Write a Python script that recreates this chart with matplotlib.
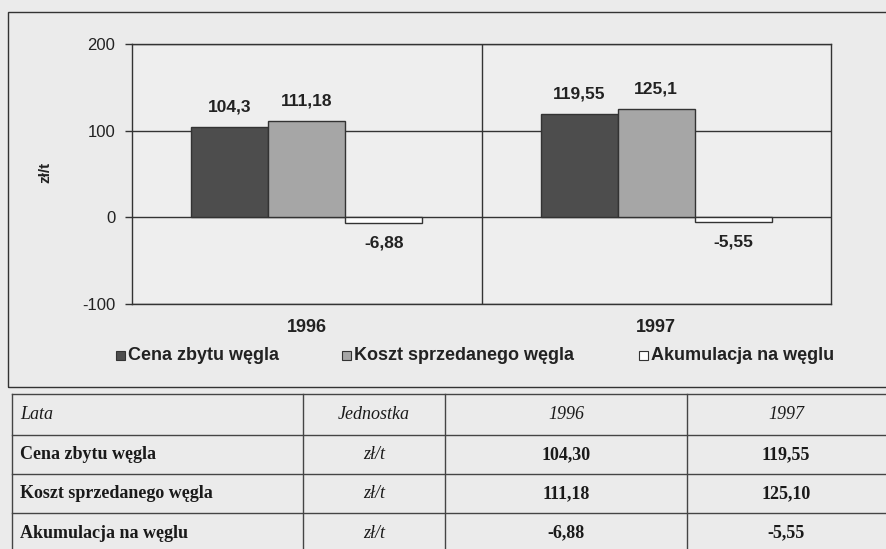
import matplotlib
matplotlib.use("Agg")
import matplotlib.pyplot as plt
from matplotlib.patches import Rectangle
from matplotlib.lines import Line2D
import numpy as np

# ---- data ----
years = ["1996", "1997"]
series_names = ["Cena zbytu węgla", "Koszt sprzedanego węgla", "Akumulacja na węglu"]
cena = [104.3, 119.55]
koszt = [111.18, 125.1]
akumulacja = [-6.88, -5.55]
bar_labels = [["104,3", "119,55"], ["111,18", "125,1"], ["-6,88", "-5,55"]]
yticks = [-100, 0, 100, 200]
y_unit = "zł/t"

table_header = ["Lata", "Jednostka", "1996", "1997"]
table_rows = [
    ["Cena zbytu węgla", "zł/t", "104,30", "119,55"],
    ["Koszt sprzedanego węgla", "zł/t", "111,18", "125,10"],
    ["Akumulacja na węglu", "zł/t", "-6,88", "-5,55"],
]

W, H = 886, 549
BG = "#ebebeb"
colors = ["#4d4d4d", "#a6a6a6", "#ffffff"]
sans = ["Liberation Sans", "DejaVu Sans"]
serif = ["Liberation Serif", "DejaVu Serif"]
TXT = "#222222"

fig = plt.figure(figsize=(W / 100, H / 100), dpi=100, facecolor=BG)

def fx(px):
    return px / W

def fy(py):
    return 1 - py / H

# chart frame
fig.patches.append(Rectangle((fx(8), fy(387)), fx(900) - fx(8), fy(12) - fy(387),
                             transform=fig.transFigure, fill=False, edgecolor="#333333", lw=1.0))

ax = fig.add_axes([fx(132), fy(304), fx(831) - fx(132), fy(44) - fy(304)])
ax.set_facecolor("#eeeeee")
x = np.arange(len(years))
bw = 0.22
data = [cena, koszt, akumulacja]
offs = [-bw, 0, bw]
for i, (vals, c) in enumerate(zip(data, colors)):
    bars = ax.bar(x + offs[i], vals, width=bw, color=c, edgecolor="#333333", lw=1.0, zorder=3)
    for j, b in enumerate(bars):
        v = vals[j]
        if v >= 0:
            ax.text(b.get_x() + b.get_width() / 2, v + 14, bar_labels[i][j], ha="center", va="bottom",
                    fontsize=12.5, fontweight="bold", family=sans, color=TXT)
        else:
            ax.text(b.get_x() + b.get_width() / 2, v - 14, bar_labels[i][j], ha="center", va="top",
                    fontsize=12.5, fontweight="bold", family=sans, color=TXT)

ax.set_xlim(-0.5, 1.5)
ax.set_ylim(-100, 200)
ax.set_yticks(yticks)
ax.set_yticklabels([str(t) for t in yticks], family=sans, fontsize=12, color=TXT)
ax.tick_params(axis="y", length=5, width=1, color="#333333", pad=7)
ax.set_xticks([])
for yv in yticks:
    ax.axhline(yv, color="#333333", lw=1.0, zorder=1)
ax.axvline(0.5, color="#333333", lw=1.0, zorder=1)
for s in ax.spines.values():
    s.set_color("#333333")
    s.set_linewidth(1.0)
fig.text(fx(45), fy(172), y_unit, rotation=90, ha="center", va="center", family=sans,
         fontsize=11, fontweight="bold", color=TXT)
for j, yr in enumerate(years):
    ax.text(x[j], -117, yr, ha="center", va="top", fontsize=13, fontweight="bold",
            family=sans, color=TXT, transform=ax.transData)

# legend
leg_items = [(120, 128), (346, 354), (643, 651)]
for (mx, tx), name, c in zip(leg_items, series_names, colors):
    fig.patches.append(Rectangle((fx(mx - 4), fy(360)), fx(9), fy(351) - fy(360),
                                 transform=fig.transFigure, facecolor=c, edgecolor="#333333", lw=0.8))
    fig.text(fx(tx), fy(355.5), name, ha="left", va="center", fontsize=13, fontweight="bold",
             family=sans, color=TXT)

# table
tax = fig.add_axes([0, 0, 1, 1])
tax.set_xlim(0, W)
tax.set_ylim(H, 0)
tax.axis("off")
col_x = [12, 303, 445, 687, 900]
row_y = [394, 435, 474, 513, 553]
lc = "#444444"
for yv in row_y[:-1]:
    tax.add_line(Line2D([col_x[0], W], [yv, yv], color=lc, lw=1.0))
for xv in col_x[:-1]:
    tax.add_line(Line2D([xv, xv], [row_y[0], H], color=lc, lw=1.0))

centers = [None, 374, 566, 786]
def cell_text(r, c, txt, header):
    yc = (row_y[r] + row_y[r + 1]) / 2
    style = "normal"
    weight = "normal"
    if header:
        style = "italic"
    else:
        if c == 0 or c >= 2:
            weight = "bold"
        if c == 1:
            style = "italic"
    if c == 0:
        tax.text(20, yc, txt, ha="left", va="center", fontsize=13, family=serif,
                 style=style, weight=weight, color="#1a1a1a")
    else:
        tax.text(centers[c], yc, txt, ha="center", va="center", fontsize=13, family=serif,
                 style=style, weight=weight, color="#1a1a1a")

for c, t in enumerate(table_header):
    cell_text(0, c, t, True)
for r, row in enumerate(table_rows):
    for c, t in enumerate(row):
        cell_text(r + 1, c, t, False)

fig.savefig("out.png", dpi=100, facecolor=BG)
